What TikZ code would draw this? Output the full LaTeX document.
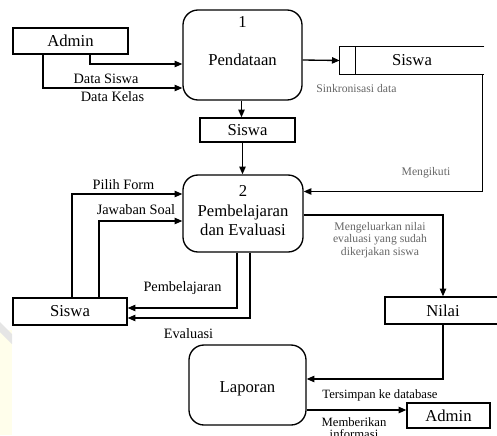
\documentclass[tikz,border=0pt]{standalone}
\usepackage{fontspec}
\setmainfont{Liberation Serif}
\usetikzlibrary{arrows.meta,calc}
\newcommand{\pxu}{0.6pt}

\begin{document}
\begin{tikzpicture}[
  x=0.6pt,y=-0.6pt,
  every node/.style={align=center},
  flow/.style={-{Triangle[length=4.6pt,width=3.8pt]},line width=0.8pt},
  entity/.style={draw,line width=0.8pt,font=\fontsize{10}{12}\selectfont,inner sep=0pt},
  proc/.style={draw,line width=0.8pt,rounded corners=9pt,inner sep=0pt},
  ptext/.style={font=\fontsize{10}{11.5}\selectfont,inner sep=0pt},
  store/.style={font=\fontsize{10}{12}\selectfont,inner sep=0pt},
  lbl/.style={font=\fontsize{8.6}{10}\selectfont},
  note/.style={font=\fontsize{7}{7.4}\selectfont,text=black!60}
]
  \useasboundingbox (0,0) rectangle (497,435);
  \clip (0,0) rectangle (497,435);
  \fill[yellow!8] (0,330) rectangle (12,435);
  \fill[black!10] (0,322) -- (12,334) -- (12,344) -- (0,332) -- cycle;

  % processes
  \node[proc,minimum width=119*\pxu,minimum height=90*\pxu] (pend) at (242.5,55) {};
  \node[ptext] (pendN) at (242.5,22) {1};
  \node[ptext] (pendT) at (242.5,60) {Pendataan};
  \node[proc,minimum width=120*\pxu,minimum height=77*\pxu] (pemb) at (243,213.5) {};
  \node[ptext] (pembN) at (243,191) {2};
  \node[ptext] (pembT) at (243,220) {Pembelajaran\\dan Evaluasi};
  \node[proc,minimum width=117*\pxu,minimum height=80*\pxu] (lap) at (247.5,385) {};
  \node[ptext] (lapT) at (247.5,389) {Laporan};

  % entities and stores
  \node[entity,minimum width=115*\pxu,minimum height=26*\pxu] (admA) at (70.5,41) {Admin};
  \node[entity,minimum width=95*\pxu,minimum height=24*\pxu] (sisM) at (247.5,130) {Siswa};
  \node[entity,minimum width=114*\pxu,minimum height=27*\pxu] (sisL) at (70,311.5) {Siswa};
  \node[entity,minimum width=116*\pxu,minimum height=27*\pxu] (nilai) at (443,310.5) {Nilai};
  \node[entity,minimum width=83*\pxu,minimum height=25*\pxu] (admB) at (448.5,415.5) {Admin};
  \node[store,minimum width=144*\pxu,minimum height=27*\pxu] (ds) at (412,60.5) {Siswa};
  \draw[line width=0.8pt] (ds.north east) -- (ds.north west) -- (ds.south west) -- (ds.south east);
  \draw[line width=0.8pt] ($(ds.north west)+(16,0)$) -- ($(ds.south west)+(16,0)$);

  % flows
  \draw[flow] ($(admA.south)+(19.5,0)$) |- ($(pend.west)+(0,9)$);
  \draw[flow] ($(admA.south)+(-27.5,0)$) |- ($(pend.west)+(0,33)$);
  \draw[flow] ($(pend.east)+(0,5)$) -- (ds.west);
  \draw[flow] ($(pend.south)+(-1,0)$) -- ($(pend.south |- sisM.north)+(-1,0)$);
  \draw[flow] ($(pend.south |- sisM.south)$) -- (pend.south |- pemb.north);
  \draw[flow] ($(ds.south east)+(-2,0)$) |- ($(pemb.east)+(0,-22)$);
  \draw[flow] ($(sisL.north)+(2,0)$) |- ($(pemb.west)+(0,-19.5)$);
  \draw[flow] ($(sisL.north)+(29,0)$) |- ($(pemb.west)+(0,7.5)$);
  \draw[flow] ($(pemb.south)+(-6,0)$) |- ($(sisL.east)+(0,-3.5)$);
  \draw[flow] ($(pemb.south)+(7,0)$) |- ($(sisL.east)+(0,6.5)$);
  \draw[flow] ($(pemb.east)+(0,1.5)$) -| (nilai.north);
  \draw[flow] (nilai.south) |- ($(lap.east)+(0,-6)$);
  \draw[flow] ($(lap.east)+(0,25)$) -- ($(admB.west)+(0,-5.5)$);

  % labels
  \node[lbl] (lDS) at (106,79) {Data Siswa};
  \node[lbl] (lDK) at (112.5,97) {Data Kelas};
  \node[note] (lSk) at (356.5,89) {Sinkronisasi data};
  \node[note] (lMg) at (426,173) {Mengikuti};
  \node[lbl] (lPF) at (123.5,185) {Pilih Form};
  \node[lbl] (lJS) at (136,210) {Jawaban Soal};
  \node[note] (lMn) at (380,240) {Mengeluarkan nilai\\evaluasi yang sudah\\dikerjakan siswa};
  \node[lbl] (lPb) at (182.5,288) {Pembelajaran};
  \node[lbl] (lEv) at (188.5,334) {Evaluasi};
  \node[font=\fontsize{7.6}{9}\selectfont] (lTd) at (380,395) {Tersimpan ke database};
  \node[font=\fontsize{7.6}{7.2}\selectfont,anchor=north,inner sep=0pt] (lMi) at (354,417) {Memberikan\\informasi};
\end{tikzpicture}
\end{document}
